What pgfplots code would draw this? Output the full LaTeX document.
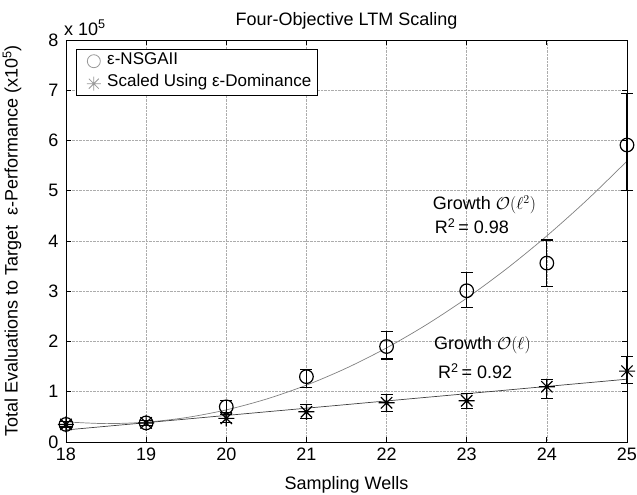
\documentclass[border=0pt]{standalone}
\usepackage{pgfplots}
\usepackage{pgfplotstable}
\pgfplotsset{compat=1.18}
\usepackage{fontspec}
\setmainfont{Liberation Sans}

\pgfdeclareplotmark{mstar}{%
  \pgfpathmoveto{\pgfqpoint{-\pgfplotmarksize}{0pt}}\pgfpathlineto{\pgfqpoint{\pgfplotmarksize}{0pt}}%
  \pgfpathmoveto{\pgfqpoint{0pt}{-\pgfplotmarksize}}\pgfpathlineto{\pgfqpoint{0pt}{\pgfplotmarksize}}%
  \pgfpathmoveto{\pgfqpoint{-0.7071\pgfplotmarksize}{-0.7071\pgfplotmarksize}}\pgfpathlineto{\pgfqpoint{0.7071\pgfplotmarksize}{0.7071\pgfplotmarksize}}%
  \pgfpathmoveto{\pgfqpoint{-0.7071\pgfplotmarksize}{0.7071\pgfplotmarksize}}\pgfpathlineto{\pgfqpoint{0.7071\pgfplotmarksize}{-0.7071\pgfplotmarksize}}%
  \pgfusepathqstroke}

\pgfplotstableread{
x y ep em
18 0.35 0.05 0.05
19 0.38 0.05 0.05
20 0.70 0.13 0.12
21 1.30 0.15 0.21
22 1.90 0.30 0.25
23 3.01 0.36 0.34
24 3.56 0.46 0.47
25 5.91 1.03 0.90
}\nsga

\pgfplotstableread{
x y ep em
18 0.35 0.05 0.05
19 0.38 0.05 0.05
20 0.47 0.08 0.08
21 0.60 0.14 0.14
22 0.78 0.17 0.18
23 0.82 0.15 0.15
24 1.10 0.15 0.23
25 1.41 0.29 0.24
}\scaled

\pgfplotstableread{
x y
18.0 0.400
18.5 0.366
19.0 0.395
19.5 0.486
20.0 0.639
20.5 0.854
21.0 1.131
21.5 1.471
22.0 1.873
22.5 2.337
23.0 2.863
23.5 3.451
24.0 4.102
24.5 4.815
25.0 5.590
}\quadfit

\pgfplotstableread{
x y
18 0.24
25 1.25
}\linfit

\begin{document}
\begin{tikzpicture}
\useasboundingbox (-66pt,-53pt) rectangle (571pt,442pt);
\begin{axis}[
  scale only axis,
  width=561pt, height=402pt,
  xmin=18, xmax=25, ymin=0, ymax=8,
  clip=false,
  xtick={18,...,25}, ytick={0,...,8},
  tick align=inside,
  major tick length=5pt,
  grid=major,
  major grid style={densely dotted, gray!65, line width=0.6pt},
  axis line style={line width=0.9pt},
  every tick/.style={black, line width=0.8pt},
  /pgf/number format/assume math mode=true,
  tick label style={font=\fontsize{18}{20}\selectfont},
  yticklabel style={xshift=-4pt},
  xticklabel style={yshift=-2pt},
  xlabel={Sampling Wells},
  ylabel={Total Evaluations to Target \ ε-Performance (x10\textsuperscript{5})},
  label style={font=\fontsize{18}{20}\selectfont},
  xlabel style={at={(rel axis cs:0.5,0)}, anchor=base, yshift=-48pt},
  ylabel style={at={(rel axis cs:0,0.5)}, anchor=center, yshift=54pt},
  title={Four-Objective LTM Scaling},
  title style={at={(rel axis cs:0.5,1)}, anchor=base, yshift=9pt, font=\fontsize{18}{20}\selectfont},
  legend style={at={(0.0178,0.9776)}, anchor=north west, draw=black, line width=0.9pt,
    font=\fontsize{17}{19}\selectfont, inner xsep=3pt, inner ysep=3pt, row sep=5pt,
    legend cell align=left,
    nodes={inner sep=3pt, text depth=0.25em, text height=0.9em}},
  legend image code/.code={\path (0pt,-6pt) (24pt,6pt); \draw[#1] plot coordinates {(14pt,0pt)};},
]
\addlegendimage{only marks, mark=o, mark size=6.5pt, gray!80, line width=0.8pt}
\addlegendentry{ε-NSGAII}
\addlegendimage{only marks, mark=mstar, mark size=7pt, gray!80, line width=0.8pt}
\addlegendentry{Scaled Using ε-Dominance}

\addplot[forget plot, gray, line width=0.7pt, smooth, no marks] table {\quadfit};
\addplot[forget plot, black!75, line width=0.7pt, no marks] table {\linfit};

\addplot[forget plot, only marks, mark=o, mark size=6.8pt, black, line width=1.2pt,
  error bars/.cd, y dir=both, y explicit,
  error bar style={line width=1.2pt, black},
  error mark options={black, mark size=6pt, line width=1.2pt, rotate=90}]
  table[x=x, y=y, y error plus=ep, y error minus=em] {\nsga};
\addplot[forget plot, only marks, mark=mstar, mark size=8pt, black, line width=1.2pt,
  error bars/.cd, y dir=both, y explicit,
  error bar style={line width=1.2pt, black},
  error mark options={black, mark size=6pt, line width=1.2pt, rotate=90}]
  table[x=x, y=y, y error plus=ep, y error minus=em] {\scaled};

\node[anchor=base west, font=\fontsize{18}{20}\selectfont, inner sep=0pt] at (axis cs:22.576,4.617) {Growth $\mathcal{O}(\ell^2)$};
\node[anchor=base west, font=\fontsize{18}{20}\selectfont, inner sep=0pt] at (axis cs:22.60,4.153) {R\textsuperscript{2}\,= 0.98};
\node[anchor=base west, font=\fontsize{18}{20}\selectfont, inner sep=0pt] at (axis cs:22.59,1.831) {Growth $\mathcal{O}(\ell)$};
\node[anchor=base west, font=\fontsize{18}{20}\selectfont, inner sep=0pt] at (axis cs:22.64,1.268) {R\textsuperscript{2}\,= 0.92};
\node[anchor=base west, font=\fontsize{18}{20}\selectfont, inner sep=0pt] at (rel axis cs:0,1) [yshift=5pt, xshift=-2pt] {x 10\textsuperscript{5}};
\end{axis}
\end{tikzpicture}
\end{document}
